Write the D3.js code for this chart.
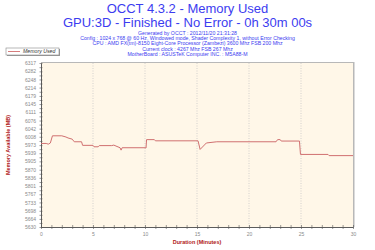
<!DOCTYPE html>
<html>
<head>
<meta charset="utf-8">
<script src="https://cdn.jsdelivr.net/npm/d3@7"></script>
<style>
  body { margin: 0; background: #fff; }
  svg { display: block; font-family: "Liberation Sans", Arial, sans-serif; }
</style>
</head>
<body>
<svg id="chart" width="375" height="250"></svg>
<script>
// chart data
const titleLines = ["OCCT 4.3.2 - Memory Used", "GPU:3D - Finished - No Error - 0h 30m 00s"];
const infoLines = [
    "Generated by OCCT : 2012/11/20 21:31:28",
    "Config : 1024 x 768 @ 60 Hz, Windowed mode, Shader Complexity 1, without Error Checking",
    "CPU : AMD FX(tm)-8150 Eight-Core Processor (Zambezi) 3600 Mhz FSB 200 Mhz",
    "Current clock : 4267 Mhz FSB 267 Mhz",
    "MotherBoard : ASUSTeK Computer INC. : M5A88-M"
];
const seriesName = "Memory Used";
const minutes = [0, 0.5, 0.7, 0.9, 1.1, 2.0, 2.4, 2.6, 3.0, 3.2, 3.9, 4.0, 5.0, 5.1, 5.5, 5.6,
    6.8, 7.0, 7.6, 7.7, 7.8, 10.0, 10.1, 10.15, 10.9, 11.0, 15.1, 15.3, 15.9, 16.9, 22.6,
    22.75, 23.0, 23.1, 24.85, 24.95, 27.6, 27.7, 30];
const memory = [5980, 5980, 5977, 5982, 6012, 6012, 6007, 6003, 5998, 5987, 5987, 5972, 5972, 5966, 5966, 5971,
    5971, 5973, 5962, 5952, 5962, 5962, 5961, 5996, 5996, 5991, 5991, 5955, 5982, 5987, 5987,
    5996, 5996, 5990, 5990, 5934, 5934, 5929, 5929];
const yTicks = [6317, 6282, 6248, 6214, 6179, 6145, 6111, 6076, 6042, 6008, 5973,
    5939, 5905, 5870, 5836, 5801, 5767, 5733, 5698, 5664, 5630];
const xTicks = [0, 5, 10, 15, 20, 25, 30];
const xLabel = "Duration (Minutes)";
const yLabel = "Memory Available (MB)";

const svg = d3.select("#chart");
const margin = {left: 41, right: 22, top: 63, bottom: 23};
const width = 375 - margin.left - margin.right;
const height = 250 - margin.top - margin.bottom;

const x = d3.scaleLinear().domain([0, 30]).range([0, width]);
const y = d3.scaleLinear().domain([5630, 6317]).range([height, 0]);

// titles
svg.selectAll(".title")
    .data(titleLines)
    .enter().append("text")
        .attr("x", 187.5)
        .attr("y", (_, i) => 13 + i * 14)
        .attr("text-anchor", "middle")
        .style("font-size", "13px")
        .style("fill", "#3c3cf0")
        .text(d => d);

svg.selectAll(".info")
    .data(infoLines)
    .enter().append("text")
        .attr("x", 187.5)
        .attr("y", (_, i) => 34.5 + i * 5.4)
        .attr("text-anchor", "middle")
        .style("font-size", "5.2px")
        .style("fill", "#3c3cf0")
        .text(d => d);

// legend
const legend = svg.append("g").attr("transform", "translate(6, 48)");
legend.append("rect").attr("x", 1).attr("y", 1).attr("width", 53).attr("height", 7).attr("fill", "#999");
legend.append("rect").attr("width", 53).attr("height", 7).attr("fill", "#fff").attr("stroke", "#888").attr("stroke-width", 0.6);
legend.append("line").attr("x1", 2).attr("x2", 14).attr("y1", 3.5).attr("y2", 3.5)
    .attr("stroke", "#cc5a5a").attr("stroke-width", 0.8);
legend.append("text").attr("x", 17).attr("y", 5.3)
    .style("font-size", "5.2px").style("font-style", "italic").style("fill", "#333")
    .text(seriesName);

const g = svg.append("g").attr("transform", `translate(${margin.left}, ${margin.top})`);

// plot background and shadow
g.append("rect").attr("x", 0).attr("y", -1).attr("width", width + 1.5).attr("height", height + 1)
    .attr("fill", "#b8b8b8");
g.append("rect").attr("width", width).attr("height", height).attr("fill", "#fff7e8");

// vertical dotted grid
g.selectAll(".grid")
    .data(xTicks.slice(1, -1))
    .enter().append("line")
        .attr("x1", d => x(d)).attr("x2", d => x(d))
        .attr("y1", 0).attr("y2", height)
        .attr("stroke", "#c8c8c8")
        .attr("stroke-width", 0.8)
        .attr("stroke-dasharray", "1,1.5");

// axes
const xAxis = g.append("g").attr("transform", `translate(0, ${height})`)
    .call(d3.axisBottom(x).tickValues(d3.range(0, 31, 1)).tickSize(0).tickFormat(""));
xAxis.selectAll(".tick line").attr("y1", -2).attr("y2", 2);
xAxis.call(g2 => g2.append("g").call(d3.axisBottom(x).tickValues(xTicks).tickSize(0).tickPadding(5)));

const yAxis = g.append("g")
    .call(d3.axisLeft(y).tickValues(yTicks).tickSize(0).tickPadding(5).tickFormat(d3.format("d")));
yAxis.selectAll(".tick line").attr("x1", -3).attr("x2", 3);
yAxis.call(g2 => g2.append("g").call(d3.axisLeft(y).tickValues(d3.pairs(yTicks).map(p => (p[0] + p[1]) / 2)).tickSize(0).tickFormat("")));
yAxis.selectAll("g g .tick line").attr("x1", -1.5).attr("x2", 1.5);

g.selectAll(".domain").attr("stroke", "#555").attr("stroke-width", 0.8);
g.selectAll(".tick line").attr("stroke", "#555").attr("stroke-width", 0.6);
g.selectAll(".tick text").style("font-size", "5px").style("fill", "#8a8a8a").style("font-family", "Liberation Sans, Arial, sans-serif");

// series line
const line = d3.line().x((d, i) => x(minutes[i])).y(d => y(d));
g.append("path")
    .datum(memory)
    .attr("fill", "none")
    .attr("stroke", "#d07070")
    .attr("stroke-width", 1)
    .attr("d", line);

// axis titles
svg.append("text")
    .attr("x", margin.left + width / 2)
    .attr("y", 243.5)
    .attr("text-anchor", "middle")
    .style("font-size", "5.5px")
    .style("font-weight", "bold")
    .style("fill", "#b02020")
    .text(xLabel);

svg.append("text")
    .attr("transform", `translate(10, ${margin.top + height / 2}) rotate(-90)`)
    .attr("text-anchor", "middle")
    .style("font-size", "5.5px")
    .style("font-weight", "bold")
    .style("fill", "#b02020")
    .text(yLabel);
</script>
</body>
</html>
